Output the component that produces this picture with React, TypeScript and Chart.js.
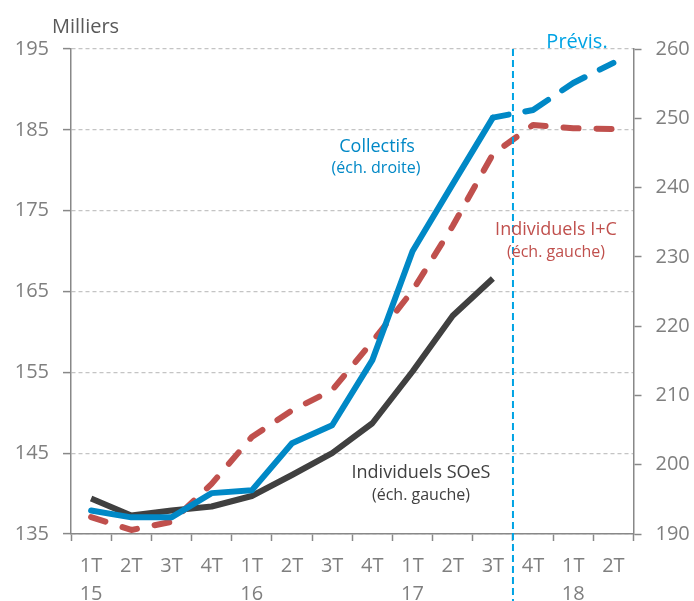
import React, { useEffect, useRef } from 'react';
import { Chart, registerables } from 'chart.js';

Chart.register(...registerables);

// ---- Data ----
const quarterLabels = ['1T', '2T', '3T', '4T', '1T', '2T', '3T', '4T', '1T', '2T', '3T', '4T', '1T', '2T'];
const yearLabels = ['15', '', '', '', '16', '', '', '', '17', '', '', '', '18', ''];

// Left axis (milliers)
const individuelsSOeS = [139.4, 137.3, 137.9, 138.4, 139.7, 142.3, 145.0, 148.7, 155.1, 162.0, 166.6];
const individuelsIC = [137.1, 135.5, 136.5, 141.2, 147.0, 150.3, 152.8, 158.8, 165.1, 173.1, 182.0, 185.6, 185.2, 185.1];
// Right axis
const collectifs = [193.4, 192.4, 192.4, 195.9, 196.3, 203.1, 205.7, 215.1, 230.8, 240.5, 250.1, 251.2, 255.1, 258.0];

const leftMin = 135;
const leftMax = 195;
const rightMin = 190;
const rightMax = 260;
const tickStep = 10;
const forecastStartIndex = 10; // segments after 3T17 are forecasts

const FONT = "'Open Sans', 'Noto Sans', sans-serif";
const BLUE = '#0088C6';
const LIGHT_BLUE = '#00A3E4';
const RED = '#C0504D';
const DARK = '#404040';
const AXIS = '#888888';
const GRID = '#C4C4C4';
const TICK_TEXT = '#7F7F7F';

const annotationPlugin = {
  id: 'annotations',
  afterDatasetsDraw(chart: any) {
    const { ctx, chartArea, scales } = chart;
    const x = scales.x;
    const vx = x.getPixelForValue(forecastStartIndex + 0.5);
    ctx.save();
    ctx.strokeStyle = LIGHT_BLUE;
    ctx.lineWidth = 2;
    ctx.setLineDash([7, 4]);
    ctx.beginPath();
    ctx.moveTo(vx, chartArea.top);
    ctx.lineTo(vx, chart.height);
    ctx.stroke();
    ctx.restore();
  },
  afterDraw(chart: any) {
    const { ctx, chartArea } = chart;
    const L = chartArea.left;
    const T = chartArea.top;
    const txt = (s: string, px: number, py: number, size: number, color: string, align: CanvasTextAlign = 'center') => {
      ctx.save();
      ctx.font = `${size}px ${FONT}`;
      ctx.fillStyle = color;
      ctx.textAlign = align;
      ctx.textBaseline = 'alphabetic';
      ctx.fillText(s, px, py);
      ctx.restore();
    };
    txt('Milliers', L - 19, T - 16, 20, '#595959', 'left');
    txt('Prévis.', L + 506, T - 1, 20, LIGHT_BLUE);
    txt('Collectifs', L + 306, T + 103, 18, BLUE);
    txt('(éch. droite)', L + 305, T + 124, 16, BLUE);
    txt('Individuels I+C', L + 485, T + 186, 18, RED);
    txt('(éch. gauche)', L + 485, T + 208, 16, RED);
    txt('Individuels SOeS', L + 350, T + 429, 18, DARK);
    txt('(éch. gauche)', L + 350, T + 451, 16, DARK);
  },
};

export default function App() {
  const canvasRef = useRef<HTMLCanvasElement | null>(null);

  useEffect(() => {
    const canvas = canvasRef.current;
    if (!canvas) return;
    const labels = quarterLabels.map((q, i) => (yearLabels[i] ? [q, yearLabels[i]] : q));
    const chart = new Chart(canvas, {
      type: 'line',
      data: {
        labels,
        datasets: [
          {
            label: 'Collectifs',
            data: collectifs,
            yAxisID: 'y1',
            borderColor: BLUE,
            borderWidth: 6,
            pointRadius: 0,
            tension: 0,
            borderJoinStyle: 'round',
            borderCapStyle: 'round',
            order: 0,
            segment: {
              borderDash: (ctx: any) => (ctx.p0DataIndex >= forecastStartIndex ? [26, 17] : undefined),
              borderDashOffset: (ctx: any) => (ctx.p0DataIndex >= forecastStartIndex ? 10 : undefined),
            },
          },
          {
            label: 'Individuels I+C',
            data: individuelsIC,
            yAxisID: 'y',
            borderColor: RED,
            borderWidth: 6,
            borderDash: [15, 18],
            borderCapStyle: 'round',
            borderJoinStyle: 'round',
            pointRadius: 0,
            tension: 0,
            order: 1,
          },
          {
            label: 'Individuels SOeS',
            data: individuelsSOeS,
            yAxisID: 'y',
            borderColor: DARK,
            borderWidth: 6,
            borderJoinStyle: 'round',
            pointRadius: 0,
            tension: 0,
            order: 2,
          },
        ],
      },
      options: {
        animation: false,
        responsive: false,
        devicePixelRatio: 1,
        layout: { padding: { top: 49, left: 0, right: 0, bottom: 0 } },
        plugins: {
          legend: { display: false },
          tooltip: { enabled: false },
        },
        scales: {
          x: {
            type: 'category',
            offset: true,
            grid: {
              offset: true,
              drawOnChartArea: false,
              drawTicks: true,
              tickLength: 7,
              tickColor: AXIS,
              tickWidth: 1.5,
            },
            border: { display: true, color: AXIS, width: 1.5 },
            ticks: {
              autoSkip: false,
              maxRotation: 0,
              minRotation: 0,
              padding: 11,
              color: TICK_TEXT,
              font: { family: FONT, size: 20, lineHeight: 1.42 },
            },
            afterFit: (s: any) => {
              s.height = 67;
            },
          },
          y: {
            position: 'left',
            min: leftMin,
            max: leftMax,
            ticks: {
              stepSize: tickStep,
              padding: 14,
              color: TICK_TEXT,
              font: { family: FONT, size: 20 },
            },
            grid: {
              color: GRID,
              lineWidth: 1.2,
              drawTicks: true,
              tickLength: 8,
              tickColor: AXIS,
              tickWidth: 1.5,
            },
            border: { display: true, color: AXIS, width: 1.5, dash: [4, 3] },
            afterFit: (s: any) => {
              s.width = 71;
            },
          },
          y1: {
            position: 'right',
            min: rightMin,
            max: rightMax,
            ticks: {
              stepSize: tickStep,
              padding: 14,
              color: TICK_TEXT,
              font: { family: FONT, size: 20 },
            },
            grid: {
              drawOnChartArea: false,
              drawTicks: true,
              tickLength: 8,
              tickColor: AXIS,
              tickWidth: 1.5,
            },
            border: { display: true, color: AXIS, width: 1.5 },
            afterFit: (s: any) => {
              s.width = 60.5;
            },
          },
        },
      },
      plugins: [annotationPlugin],
    } as any);
    return () => chart.destroy();
  }, []);

  return (
    <div style={{ position: 'absolute', left: 0, top: 0, width: 694, height: 601, background: '#fff' }}>
      <canvas ref={canvasRef} width={694} height={601} style={{ width: 694, height: 601, display: 'block' }} />
    </div>
  );
}
